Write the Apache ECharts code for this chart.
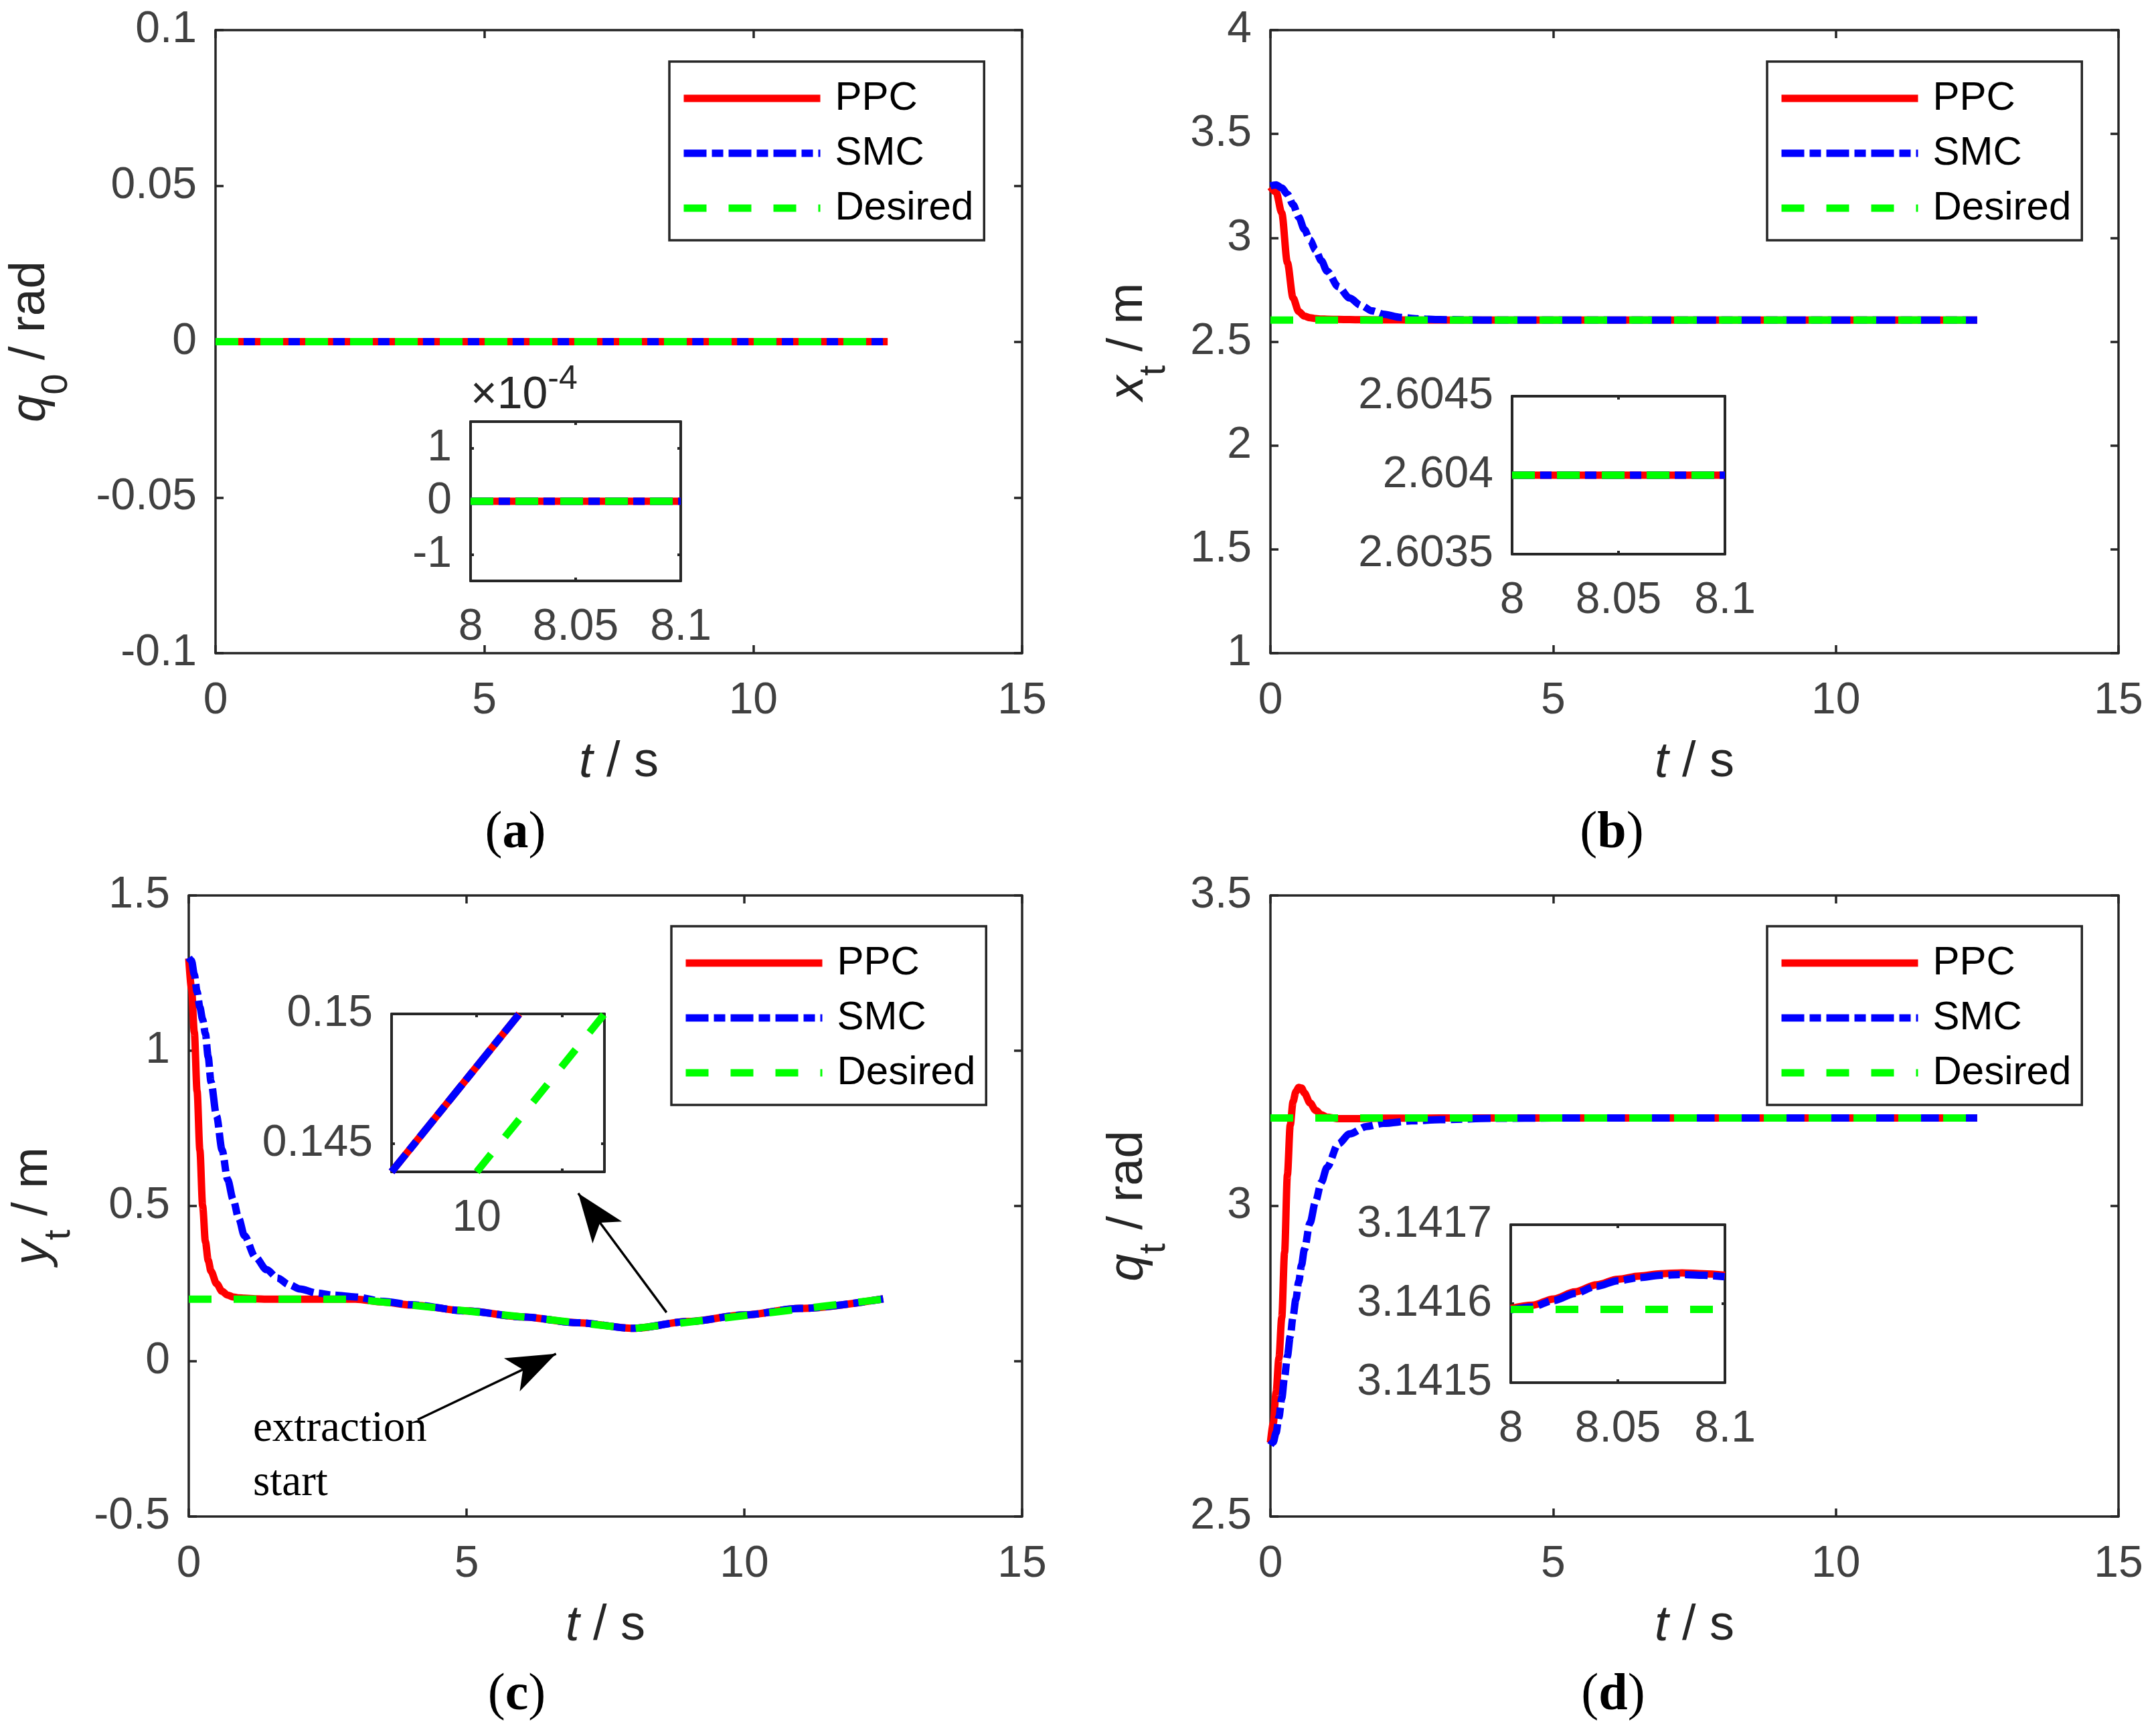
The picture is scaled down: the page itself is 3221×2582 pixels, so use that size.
<!DOCTYPE html>
<html>
<head>
<meta charset="utf-8">
<title>PPC vs SMC tracking</title>
<script src="https://cdn.jsdelivr.net/npm/echarts@6.0.0/dist/echarts.min.js"></script>
<style>
html,body{margin:0;padding:0;background:#ffffff;}
#chart{width:3221px;height:2582px;}
</style>
</head>
<body>
<div id="chart"></div>
<script>
// ================= DATA =================
const seriesNames = ['PPC', 'SMC', 'Desired'];

// (a) q0 / rad
const tQ0 = [0, 12.5];
const q0PPC = [0, 0];
const q0SMC = [0, 0];
const q0Des = [0, 0];
const tQ0Zoom = [8, 8.1];
const q0ZoomPPC = [0, 0];
const q0ZoomSMC = [0, 0];
const q0ZoomDes = [0, 0];

// (b) x_t / m
const tX = [0, 0.1, 0.2, 0.3, 0.4, 0.5, 0.6, 0.7, 0.8, 0.9, 1.0, 1.2, 1.4, 1.6, 1.8, 2.0, 2.3, 2.6, 3.0, 3.5, 4.0, 6.0, 8.0, 10.0, 12.5];
const xPPC = [3.245, 3.22, 3.12, 2.88, 2.71, 2.645, 2.623, 2.615, 2.611, 2.609, 2.608, 2.607, 2.606, 2.6055, 2.605, 2.6048, 2.6045, 2.604, 2.604, 2.604, 2.604, 2.604, 2.604, 2.604, 2.604];
const xSMC = [3.25, 3.255, 3.24, 3.21, 3.16, 3.10, 3.04, 2.99, 2.94, 2.89, 2.84, 2.765, 2.71, 2.675, 2.648, 2.632, 2.617, 2.61, 2.606, 2.6045, 2.604, 2.604, 2.604, 2.604, 2.604];
const xDes = [2.604, 2.604, 2.604, 2.604, 2.604, 2.604, 2.604, 2.604, 2.604, 2.604, 2.604, 2.604, 2.604, 2.604, 2.604, 2.604, 2.604, 2.604, 2.604, 2.604, 2.604, 2.604, 2.604, 2.604, 2.604];
const tXZoom = [8, 8.1];
const xZoomPPC = [2.604, 2.604];
const xZoomSMC = [2.604, 2.604];
const xZoomDes = [2.604, 2.604];

// (c) y_t / m
const tY = [0, 0.05, 0.1, 0.15, 0.2, 0.25, 0.3, 0.35, 0.4, 0.5, 0.6, 0.7, 0.8, 0.9, 1.0, 1.2, 1.4, 1.6, 1.8, 2.0, 2.3, 2.6, 3.0, 3.5, 4.0, 5.0, 6.0, 7.0, 8.0, 9.0, 10.0, 11.0, 12.5];
const yPPC = [1.297, 1.20, 1.06, 0.87, 0.68, 0.50, 0.385, 0.325, 0.29, 0.25, 0.225, 0.213, 0.207, 0.204, 0.203, 0.201, 0.2, 0.2, 0.2, 0.2, 0.2, 0.2, 0.2, 0.1905, 0.181, 0.162, 0.143, 0.124, 0.106, 0.128, 0.149, 0.170, 0.201];
const ySMC = [1.30, 1.29, 1.245, 1.19, 1.14, 1.10, 1.055, 0.98, 0.90, 0.79, 0.68, 0.585, 0.52, 0.46, 0.405, 0.335, 0.295, 0.268, 0.247, 0.233, 0.22, 0.213, 0.207, 0.193, 0.182, 0.162, 0.143, 0.124, 0.106, 0.128, 0.149, 0.170, 0.201];
const yDes = [0.2, 0.2, 0.2, 0.2, 0.2, 0.2, 0.2, 0.2, 0.2, 0.2, 0.2, 0.2, 0.2, 0.2, 0.2, 0.2, 0.2, 0.2, 0.2, 0.2, 0.2, 0.2, 0.2, 0.1905, 0.181, 0.162, 0.143, 0.124, 0.105, 0.126, 0.147, 0.168, 0.2];
const tYZoom = [9.8, 10.1];
const yZoomPPC = [0.1439, 0.15];
const yZoomSMC = [0.1439, 0.15];
const tYZoomDes = [10.0, 10.3];
const yZoomDes = [0.1439, 0.15];

// (d) q_t / rad
const tQ = [0, 0.05, 0.1, 0.15, 0.2, 0.25, 0.3, 0.35, 0.4, 0.45, 0.5, 0.55, 0.6, 0.7, 0.8, 0.9, 1.0, 1.2, 1.4, 1.7, 2.0, 2.5, 3.0, 4.0, 5.0, 12.5];
const qPPC = [2.619, 2.65, 2.70, 2.755, 2.82, 2.925, 3.05, 3.13, 3.168, 3.184, 3.191, 3.19, 3.182, 3.166, 3.154, 3.147, 3.143, 3.1405, 3.1405, 3.141, 3.1413, 3.1415, 3.1416, 3.1416, 3.1416, 3.1416];
const qSMC = [2.615, 2.62, 2.635, 2.66, 2.69, 2.725, 2.758, 2.79, 2.822, 2.85, 2.878, 2.905, 2.93, 2.973, 3.008, 3.038, 3.062, 3.1, 3.116, 3.128, 3.133, 3.137, 3.139, 3.1412, 3.1416, 3.1416];
const qDes = [3.14159, 3.14159, 3.14159, 3.14159, 3.14159, 3.14159, 3.14159, 3.14159, 3.14159, 3.14159, 3.14159, 3.14159, 3.14159, 3.14159, 3.14159, 3.14159, 3.14159, 3.14159, 3.14159, 3.14159, 3.14159, 3.14159, 3.14159, 3.14159, 3.14159, 3.14159];
const tQZoom = [8, 8.01, 8.02, 8.03, 8.04, 8.05, 8.06, 8.07, 8.08, 8.09, 8.1];
const qZoomPPC = [3.141594, 3.141598, 3.141606, 3.141615, 3.141624, 3.141631, 3.141635, 3.141638, 3.141639, 3.141638, 3.141636];
const qZoomSMC = [3.141592, 3.141596, 3.141604, 3.141613, 3.141622, 3.141629, 3.141633, 3.141636, 3.141637, 3.141636, 3.141634];
const tQZoomDes = [8, 8.1];
const qZoomDes = [3.1415927, 3.1415927];

// axis ranges [min, max, interval]
const tRange = [0, 15, 5];
const q0Range = [-0.1, 0.1, 0.05];
const xRange = [1, 4, 0.5];
const yRange = [-0.5, 1.5, 0.5];
const qRange = [2.5, 3.5, 0.5];
const tZoomRange = [8, 8.1, 0.05];
const xZoomRange = [2.6035, 2.6045, 0.0005];
const qZoomRange = [3.1415, 3.1417, 0.0001];
// inset tick lists
const q0ZoomLim = [-0.00015, 0.00015];
const q0ZoomTicks = [-0.0001, 0, 0.0001];
const tYZoomLim = [9.8, 10.3];
const tYZoomTicks = [9.8, 10, 10.2];
const tYZoomLabels = [10];
const yZoomLim = [0.1439, 0.15];
const yZoomTicks = [0.145, 0.15];

// annotation arrows in panel (c) data coordinates [tail, tip]
const arrowTails = [[8.60, 0.157], [4.12, -0.188]];
const arrowHeads = [[7.01, 0.541], [6.61, 0.024]];

// ================= STYLE =================
const FONT = '"Liberation Sans", Arial, Helvetica, sans-serif';
const SERIF = '"Liberation Serif", "Times New Roman", serif';
const AXC = '#262626';
const TLC = '#404040';
const STY = {
  PPC: { color: '#ff0000', type: 'solid', smooth: 0.3 },
  SMC: { color: '#0000ff', type: [34, 8, 17, 8], smooth: 0.3 },
  Desired: { color: '#00ff00', type: [34, 33], smooth: false }
};

const grids = [
  { left: 322, top: 45, width: 1205, height: 931 },    // a
  { left: 1898, top: 45, width: 1267, height: 931 },   // b
  { left: 282, top: 1338, width: 1245, height: 928 },  // c
  { left: 1898, top: 1338, width: 1267, height: 928 }, // d
  { left: 703, top: 630, width: 314, height: 238 },    // a inset
  { left: 2259, top: 592, width: 318, height: 236 },   // b inset
  { left: 585, top: 1515, width: 318, height: 236 },   // c inset
  { left: 2257, top: 1830, width: 320, height: 236 }   // d inset
];

const trim = v => String(parseFloat(Number(v).toFixed(6)));

function yName(sym, sub, unit) {
  return '{i|' + sym + '}{s|' + sub + '}{n| / ' + unit + '}';
}
const yNameRich = {
  i: { fontFamily: FONT, fontSize: 74, fontStyle: 'italic', color: AXC, verticalAlign: 'middle' },
  s: { fontFamily: FONT, fontSize: 56, color: AXC, padding: [78, 0, 0, 0], verticalAlign: 'middle' },
  n: { fontFamily: FONT, fontSize: 74, color: AXC, verticalAlign: 'middle' }
};
const xNameRich = {
  i: { fontFamily: FONT, fontSize: 74, fontStyle: 'italic', color: AXC },
  n: { fontFamily: FONT, fontSize: 74, color: AXC }
};

function mkAxes(gi, dim, cfg, isMain) {
  const lw = isMain ? 3.5 : 4;
  const tl = isMain ? 12 : 5;
  function base() {
    const a = {
      type: 'value', gridIndex: gi, min: cfg.min, max: cfg.max, silent: true,
      splitLine: { show: false },
      axisLine: { show: true, onZero: false, lineStyle: { color: AXC, width: lw } },
      axisTick: { show: true, inside: true, length: tl, lineStyle: { color: AXC, width: lw } },
      axisLabel: { show: false }
    };
    if (cfg.interval != null) a.interval = cfg.interval;
    if (cfg.ticks) a.axisTick.customValues = cfg.ticks;
    return a;
  }
  const p = base();
  p.position = dim === 'x' ? 'bottom' : 'left';
  p.axisLabel = { show: true, margin: cfg.margin, fontSize: 66, fontFamily: FONT, color: TLC,
                  formatter: cfg.fmt || trim };
  if (cfg.labels) p.axisLabel.customValues = cfg.labels;
  if (cfg.name) {
    p.name = cfg.name;
    p.nameLocation = cfg.nameLocation || 'middle';
    p.nameGap = cfg.nameGap;
    p.nameTextStyle = cfg.nameTextStyle;
  }
  const m = base();
  m.position = dim === 'x' ? 'top' : 'right';
  return [p, m];
}

const xCfgs = [
  { min: tRange[0], max: tRange[1], interval: tRange[2], margin: 39, name: '{i|t}{n| / s}', nameGap: 127, nameTextStyle: { rich: xNameRich } },
  { min: tRange[0], max: tRange[1], interval: tRange[2], margin: 39, name: '{i|t}{n| / s}', nameGap: 127, nameTextStyle: { rich: xNameRich } },
  { min: tRange[0], max: tRange[1], interval: tRange[2], margin: 39, name: '{i|t}{n| / s}', nameGap: 127, nameTextStyle: { rich: xNameRich } },
  { min: tRange[0], max: tRange[1], interval: tRange[2], margin: 39, name: '{i|t}{n| / s}', nameGap: 127, nameTextStyle: { rich: xNameRich } },
  { min: tZoomRange[0], max: tZoomRange[1], interval: tZoomRange[2], margin: 37 },
  { min: tZoomRange[0], max: tZoomRange[1], interval: tZoomRange[2], margin: 37 },
  { min: tYZoomLim[0], max: tYZoomLim[1], ticks: tYZoomTicks, labels: tYZoomLabels, margin: 37 },
  { min: tZoomRange[0], max: tZoomRange[1], interval: tZoomRange[2], margin: 37 }
];
const yCfgs = [
  { min: q0Range[0], max: q0Range[1], interval: q0Range[2], margin: 28, name: yName('q', '0', 'rad'), nameGap: 209, nameTextStyle: { rich: yNameRich } },
  { min: xRange[0], max: xRange[1], interval: xRange[2], margin: 28, name: yName('x', 't', 'm'), nameGap: 145, nameTextStyle: { rich: yNameRich } },
  { min: yRange[0], max: yRange[1], interval: yRange[2], margin: 28, name: yName('y', 't', 'm'), nameGap: 165, nameTextStyle: { rich: yNameRich } },
  { min: qRange[0], max: qRange[1], interval: qRange[2], margin: 28, name: yName('q', 't', 'rad'), nameGap: 145, nameTextStyle: { rich: yNameRich } },
  { min: q0ZoomLim[0], max: q0ZoomLim[1], ticks: q0ZoomTicks, labels: q0ZoomTicks, margin: 28,
    fmt: v => String(Math.round(v * 1e4)),
    name: '{a|\u00d710}{b|-4}', nameLocation: 'end', nameGap: -10,
    nameTextStyle: { align: 'left', verticalAlign: 'bottom',
      rich: { a: { fontFamily: FONT, fontSize: 68, color: AXC, verticalAlign: 'middle' },
              b: { fontFamily: FONT, fontSize: 50, color: AXC, padding: [0, 0, 48, 0], verticalAlign: 'middle' } } } },
  { min: xZoomRange[0], max: xZoomRange[1], interval: xZoomRange[2], margin: 28 },
  { min: yZoomLim[0], max: yZoomLim[1], ticks: yZoomTicks, labels: yZoomTicks, margin: 28 },
  { min: qZoomRange[0], max: qZoomRange[1], interval: qZoomRange[2], margin: 28, fmt: v => Number(v).toFixed(4) }
];

const xAxes = [], yAxes = [];
for (let i = 0; i < 8; i++) {
  xAxes.push(...mkAxes(i, 'x', xCfgs[i], i < 4));
  yAxes.push(...mkAxes(i, 'y', yCfgs[i], i < 4));
}

function zip(t, v) { return t.map((x, i) => [x, v[i]]); }
function line(name, gi, t, v, extra) {
  const s = STY[name];
  return Object.assign({
    name: name, type: 'line', xAxisIndex: 2 * gi, yAxisIndex: 2 * gi,
    data: zip(t, v), symbol: 'none', showSymbol: false,
    smooth: s.smooth, smoothMonotone: 'x', clip: true,
    lineStyle: { color: s.color, width: 11, type: s.type, cap: 'butt', join: 'round' },
    itemStyle: { color: s.color },
    emphasis: { disabled: true }, silent: true, z: 2
  }, extra || {});
}

const arrowMark = {
  silent: true, animation: false,
  symbol: ['none', 'arrow'],
  label: { show: false },
  lineStyle: { color: '#000000', width: 3.5, type: 'solid' },
  emphasis: { disabled: true },
  data: arrowTails.map((tl, k) => [
    { coord: tl, symbol: 'none' },
    { coord: arrowHeads[k], symbol: 'arrow', symbolSize: [41, 73] }
  ])
};

const series = [
  line('PPC', 0, tQ0, q0PPC), line('SMC', 0, tQ0, q0SMC), line('Desired', 0, tQ0, q0Des),
  line('PPC', 1, tX, xPPC), line('SMC', 1, tX, xSMC), line('Desired', 1, tX, xDes),
  line('PPC', 2, tY, yPPC), line('SMC', 2, tY, ySMC), line('Desired', 2, tY, yDes, { markLine: arrowMark }),
  line('PPC', 3, tQ, qPPC), line('SMC', 3, tQ, qSMC), line('Desired', 3, tQ, qDes),
  line('PPC', 4, tQ0Zoom, q0ZoomPPC), line('SMC', 4, tQ0Zoom, q0ZoomSMC), line('Desired', 4, tQ0Zoom, q0ZoomDes),
  line('PPC', 5, tXZoom, xZoomPPC), line('SMC', 5, tXZoom, xZoomSMC), line('Desired', 5, tXZoom, xZoomDes),
  line('PPC', 6, tYZoom, yZoomPPC), line('SMC', 6, tYZoom, yZoomSMC), line('Desired', 6, tYZoomDes, yZoomDes),
  line('PPC', 7, tQZoom, qZoomPPC), line('SMC', 7, tQZoom, qZoomSMC), line('Desired', 7, tQZoomDes, qZoomDes)
];

const legendBoxes = [[1000, 92], [2640, 92], [1003, 1384], [2640, 1384]];
const legends = legendBoxes.map(b => ({
  data: seriesNames, orient: 'vertical', left: b[0], top: b[1],
  itemWidth: 204, itemHeight: 12, itemGap: 22,
  padding: [25, 16, 18, 16],
  borderColor: AXC, borderWidth: 3.5, backgroundColor: '#ffffff',
  selectedMode: false, z: 10,
  lineStyle: { width: 11, cap: 'butt' },
  itemStyle: { opacity: 0 },
  textStyle: { fontFamily: FONT, fontSize: 60, color: '#000000', lineHeight: 60, padding: [0, 0, 0, 17] }
}));

const panelLabels = [['a', 770, 1246], ['b', 2408, 1246], ['c', 772, 2534], ['d', 2410, 2534]];
const graphics = panelLabels.map(p => ({
  type: 'text', x: p[1], y: p[2], silent: true,
  style: {
    text: '{p|(}{b|' + p[0] + '}{p|)}', align: 'center', verticalAlign: 'middle',
    rich: {
      p: { fontFamily: SERIF, fontSize: 78, fill: '#000' },
      b: { fontFamily: SERIF, fontSize: 78, fontWeight: 'bold', fill: '#000' }
    }
  }
}));
graphics.push({
  type: 'text', x: 378, y: 2095, silent: true,
  style: { text: 'extraction\nstart', fontFamily: SERIF, fontSize: 65, lineHeight: 81,
           fill: '#000', align: 'left', verticalAlign: 'top' }
});

const chart = echarts.init(document.getElementById('chart'), null, { renderer: 'canvas' });
chart.setOption({
  backgroundColor: '#ffffff',
  animation: false,
  grid: grids.map(g => Object.assign({ containLabel: false, show: false }, g)),
  xAxis: xAxes,
  yAxis: yAxes,
  legend: legends,
  series: series,
  graphic: graphics
});
</script>
</body>
</html>
